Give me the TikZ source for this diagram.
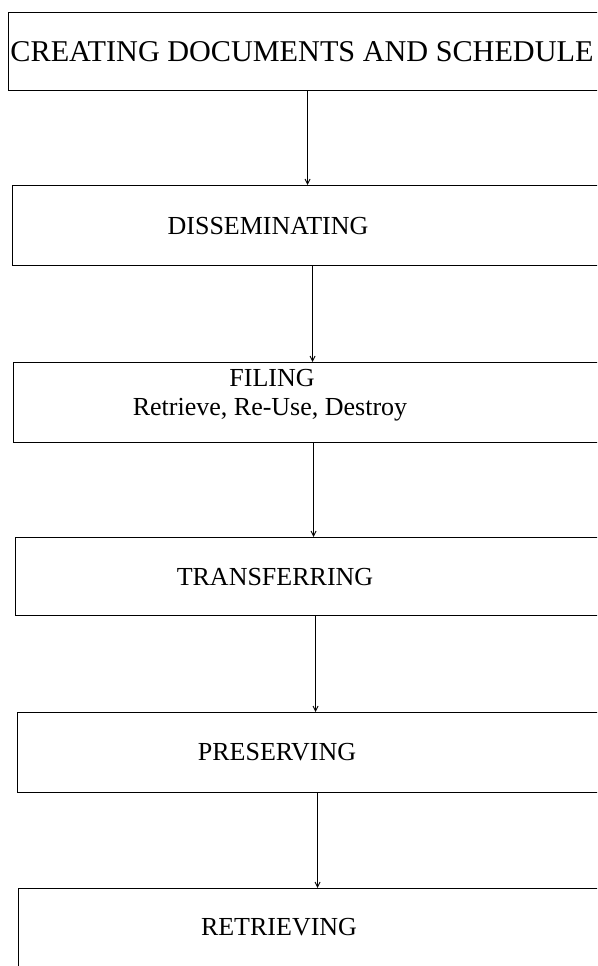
\documentclass[tikz,border=0pt]{standalone}
\usepackage{fontspec}
\setmainfont{Liberation Serif}
\usetikzlibrary{positioning,calc,arrows.meta}

\begin{document}
\begin{tikzpicture}[x=1pt,y=-1pt,>={Straight Barb[length=5pt,width=5pt]}]
\tikzset{
  stage/.style={draw, line width=1.2pt, minimum width=600pt, minimum height=80pt,
    inner sep=0pt, anchor=north west},
  stagetext/.style={font=\fontsize{26}{30}\selectfont, inner sep=0pt, anchor=base},
  flow/.style={->, line width=0.9pt}
}
\clip (0,0) rectangle (597,966);
\useasboundingbox (0,0) rectangle (597,966);

% --- boxes --------------------------------------------------------------
\node[stage, minimum height=78pt] (create) at (8,12) {};
\node[stage] (dissem) at (12,185) {};
\node[stage] (filing) at (13,362) {};
\node[stage, minimum height=78pt] (transf) at (15,537) {};
\node[stage] (preserv) at (17,712) {};
\node[stage] (retriev) at (18,888) {};

% --- labels -------------------------------------------------------------
\node[stagetext, font=\fontsize{30.2}{33}\selectfont] (createtxt) at (302,62) {CREATING DOCUMENTS AND SCHEDULE};
\node[stagetext] (dissemtxt) at (268,234) {DISSEMINATING};
\node[stagetext] (filingtxt) at (272,386) {FILING};
\node[stagetext] (filingsub) at (270,415) {Retrieve, Re-Use, Destroy};
\node[stagetext] (transftxt) at (275,585) {TRANSFERRING};
\node[stagetext] (preservtxt) at (277,760) {PRESERVING};
\node[stagetext] (retrievtxt) at (279,935) {RETRIEVING};

% --- arrows -------------------------------------------------------------
\draw[flow] ([xshift=-1pt]create.south) -- ([xshift=-1pt]create.south |- dissem.north);
\draw[flow] (dissem.south) -- (dissem.south |- filing.north);
\draw[flow] (filing.south) -- (filing.south |- transf.north);
\draw[flow] (transf.south) -- (transf.south |- preserv.north);
\draw[flow] (preserv.south) -- (preserv.south |- retriev.north);
\end{tikzpicture}
\end{document}
